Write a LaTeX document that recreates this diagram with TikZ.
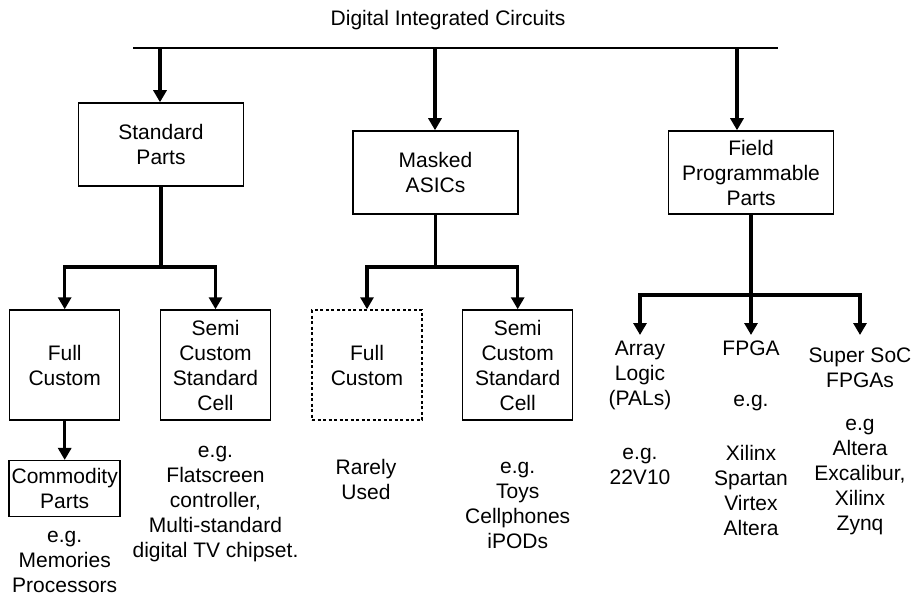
\documentclass[tikz,border=0pt]{standalone}
\usepackage{fontspec}
\setmainfont{Liberation Sans}
\usetikzlibrary{arrows.meta,positioning}

\begin{document}
\begin{tikzpicture}[x=1pt,y=-1pt,
  every node/.style={font=\fontsize{21}{25}\selectfont},
  box/.style={draw,line width=1.5pt,align=center,inner sep=0pt},
  topbox/.style={box,minimum width=165pt,minimum height=83pt},
  subbox/.style={box,minimum width=110pt,minimum height=110pt},
  txt/.style={align=center,inner sep=0pt},
  head/.style={align=center,inner ysep=6pt,inner xsep=0pt,anchor=north},
  wire/.style={line width=3.5pt},
  arr/.style={wire,-{Triangle[width=13pt,length=12pt]}}]
 \useasboundingbox (0,0) rectangle (912,599);
 \node (title) at (448,20) {Digital Integrated Circuits};
 \coordinate (barL) at (133,48);
 \coordinate (barR) at (778,48);
 \draw[line width=1.5pt] (barL) -- (barR);
 % first level
 \node[topbox] (sp)  at (161,144.5) {Standard\\Parts};
 \node[topbox] (ma)  at (435.5,172.5) {Masked\\ASICs};
 \node[topbox] (fpp) at (751,172.5) {Field\\Programmable\\Parts};
 \coordinate (t1) at (160,48);
 \coordinate (t2) at (435,48);
 \coordinate (t3) at (737,48);
 \draw[arr] (t1) -- (t1 |- sp.north);
 \draw[arr] (t2) -- (t2 |- ma.north);
 \draw[arr] (t3) -- (t3 |- fpp.north);
 % second level
 \node[subbox] (fc1) at (64.7,365) {Full\\Custom};
 \node[subbox] (sc1) at (215.5,365) {Semi\\Custom\\Standard\\Cell};
 \node[subbox,dash pattern=on 3pt off 2.5pt] (fc2) at (367,365) {Full\\Custom};
 \node[subbox] (sc2) at (517.7,365) {Semi\\Custom\\Standard\\Cell};
 \node[box,minimum width=111pt,minimum height=56pt] (cp) at (64.7,488.7) {Commodity\\Parts};
 \node[head] (al) at (640,335) {Array\\Logic\\(PALs)};
 \node[head] (fpga) at (751,335) {FPGA};
 \node[head,inner ysep=13pt] (soc) at (860,335) {Super SoC\\FPGAs};
 \coordinate (j1) at (161,267);
 \coordinate (j2) at (435.5,267);
 \coordinate (j3) at (751,295);
 \draw[wire] (sp) -- (j1);
 \draw[arr] (j1) -| (fc1.north);
 \draw[arr] (j1) -| (sc1.north);
 \draw[wire] (ma) -- (j2);
 \draw[arr] (j2) -| (fc2.north);
 \draw[arr] (j2) -| (sc2.north);
 \draw[arr] (fc1) -- (cp);
 \draw[wire] (fpp) -- (j3);
 \draw[arr] (j3) -| (al.north);
 \draw[arr] (j3) -- (fpga);
 \draw[arr] (j3) -| (soc.north);
 % examples
 \node[txt] (cpx)  at (64.7,561.7) {e.g.\\Memories\\Processors};
 \node[txt] (sc1x) at (215.5,504) {e.g.\\Flatscreen\\controller,\\Multi-standard\\digital TV chipset.};
 \node[txt] (fc2x) at (366,479.3) {Rarely\\Used};
 \node[txt] (sc2x) at (517.7,505.5) {e.g.\\Toys\\Cellphones\\iPODs};
 \node[txt] (alx)  at (640,466.5) {e.g.\\22V10};
 \node[txt] (fpgax) at (751,402.7) {e.g.};
 \node[txt] (fpgay) at (751,490) {Xilinx\\Spartan\\Virtex\\Altera};
 \node[txt] (socx) at (860,476.7) {e.g\\Altera\\Excalibur,\\Xilinx\\Zynq};
\end{tikzpicture}
\end{document}
